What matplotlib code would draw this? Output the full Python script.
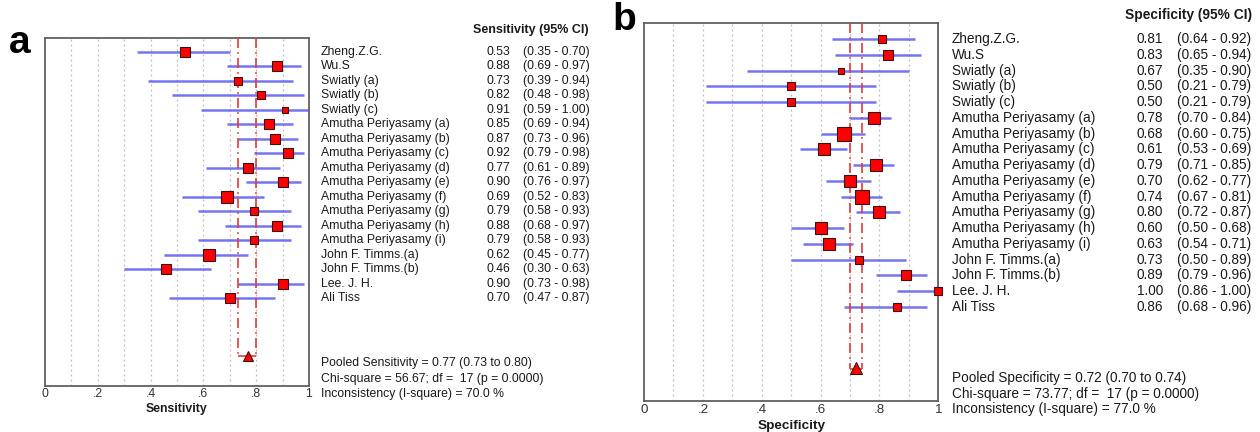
import numpy as np
import matplotlib
matplotlib.use('Agg')
import matplotlib.pyplot as plt
from matplotlib import transforms

plt.rcParams['font.family'] = ['Liberation Sans', 'DejaVu Sans']

studies = ["Zheng.Z.G.", "Wu.S", "Swiatly (a)", "Swiatly (b)", "Swiatly (c)",
           "Amutha Periyasamy (a)", "Amutha Periyasamy (b)", "Amutha Periyasamy (c)",
           "Amutha Periyasamy (d)", "Amutha Periyasamy (e)", "Amutha Periyasamy (f)",
           "Amutha Periyasamy (g)", "Amutha Periyasamy (h)", "Amutha Periyasamy (i)",
           "John F. Timms.(a)", "John F. Timms.(b)", "Lee. J. H.", "Ali Tiss"]

sens = [0.53, 0.88, 0.73, 0.82, 0.91, 0.85, 0.87, 0.92, 0.77, 0.90, 0.69, 0.79, 0.88, 0.79, 0.62, 0.46, 0.90, 0.70]
sens_lo = [0.35, 0.69, 0.39, 0.48, 0.59, 0.69, 0.73, 0.79, 0.61, 0.76, 0.52, 0.58, 0.68, 0.58, 0.45, 0.30, 0.73, 0.47]
sens_hi = [0.70, 0.97, 0.94, 0.98, 1.00, 0.94, 0.96, 0.98, 0.89, 0.97, 0.83, 0.93, 0.97, 0.93, 0.77, 0.63, 0.98, 0.87]
sens_weight = [8.5, 8, 6.7, 7.3, 6, 8.7, 8.7, 9, 9.3, 9, 10, 7.3, 8, 7.3, 10, 9.3, 8.3, 8]

spec = [0.81, 0.83, 0.67, 0.50, 0.50, 0.78, 0.68, 0.61, 0.79, 0.70, 0.74, 0.80, 0.60, 0.63, 0.73, 0.89, 1.00, 0.86]
spec_lo = [0.64, 0.65, 0.35, 0.21, 0.21, 0.70, 0.60, 0.53, 0.71, 0.62, 0.67, 0.72, 0.50, 0.54, 0.50, 0.79, 0.86, 0.68]
spec_hi = [0.92, 0.94, 0.90, 0.79, 0.79, 0.84, 0.75, 0.69, 0.85, 0.77, 0.81, 0.87, 0.68, 0.71, 0.89, 0.96, 1.00, 0.96]
spec_weight = [7.7, 8, 6, 6.7, 6.7, 10.7, 12, 11, 11, 10, 11.7, 10.7, 9.7, 10.7, 7.3, 9.3, 6.7, 7.3]

pooled_sens = (0.77, 0.73, 0.80)
pooled_spec = (0.72, 0.70, 0.74)
stats_sens = (56.67, 17, 0.0000, 70.0)
stats_spec = (73.77, 17, 0.0000, 77.0)

xticks = [0, 0.2, 0.4, 0.6, 0.8, 1.0]
xticklabels = ['0', '.2', '.4', '.6', '.8', '1']

W, H = 1260, 432
fig = plt.figure(figsize=(W / 100, H / 100), dpi=100)


def fx(px):
    return px / W


def fy(py):
    return 1 - py / H


TXT = '#1a1a1a'
BLUE = '#5c5cf2'
RED = '#ff0000'
DRED = '#e03a3a'


def forest(rect, est, lo, hi, weight, pooled, ylim, bracket_row, tri_row, tri_ms, scale,
           fs_tick, label, fs_label, tickpad, labelpad):
    ax = fig.add_axes(rect)
    n = len(est)
    rows = np.arange(n)
    ax.set_xlim(0, 1)
    ax.set_ylim(ylim)
    for g in np.arange(0.1, 0.95, 0.1):
        ax.axvline(g, color='#bdbdbd', lw=0.9, ls=(0, (1.5, 2.5)), zorder=0)
    ax.hlines(rows, lo, hi, color=BLUE, lw=1.8, zorder=2, alpha=0.85)
    for i in range(n):
        ax.plot(est[i], rows[i], 's', ms=weight[i] * 0.72 * scale, mfc=RED,
                mec='#3b1010', mew=0.8, zorder=4, clip_on=False)
    pe, plo, phi = pooled
    ax.vlines([plo, phi], ylim[1], bracket_row, color=DRED, lw=1.2,
              linestyles=[(0, (6, 2.5, 1, 2.5))], zorder=3)
    ax.hlines(bracket_row, plo, phi, color=DRED, lw=1.2, zorder=3)
    ax.plot(pe, tri_row, '^', ms=tri_ms, mfc=RED, mec='#3b1010', mew=0.8, zorder=5)
    ax.set_xticks(xticks)
    ax.set_xticklabels(xticklabels, fontsize=fs_tick, color='#333333')
    ax.tick_params(axis='x', length=0, pad=tickpad)
    ax.set_yticks([])
    ax.set_xlabel(label, fontsize=fs_label, fontweight='bold', color=TXT, labelpad=labelpad)
    for s in ax.spines.values():
        s.set_color('#606060')
        s.set_linewidth(1.3)
    return ax


# Panel a
ax_a = forest([fx(45), fy(385.7), fx(264), (385.7 - 38) / H], sens, sens_lo, sens_hi,
              sens_weight, pooled_sens, (23.03, -0.945), 21.0, 20.95, 7.6, 1.15,
              8.8, 'Sensitivity', 8.8, 1.5, 2.5)
# Panel b
ax_b = forest([fx(644), fy(401), fx(294.3), (401 - 23.3) / H], spec, spec_lo, spec_hi,
              spec_weight, pooled_spec, (22.98, -1.0), 20.95, 20.9, 9.0, 1.15,
              9.6, 'Specificity', 9.7, 2.0, 3.0)


def side_text(ax, est, lo, hi, x_name, x_val, x_ci, fs):
    tr = transforms.blended_transform_factory(fig.transFigure, ax.transData)
    for i, name in enumerate(studies):
        fig.text(fx(x_name), i, name, transform=tr, fontsize=fs, color=TXT, va='center', ha='left')
        fig.text(fx(x_val), i, f'{est[i]:.2f}', transform=tr, fontsize=fs, color=TXT, va='center', ha='left')
        fig.text(fx(x_ci), i, f'({lo[i]:.2f} - {hi[i]:.2f})', transform=tr, fontsize=fs,
                 color=TXT, va='center', ha='left')


side_text(ax_a, sens, sens_lo, sens_hi, 321, 486.7, 522.7, 8.8)
side_text(ax_b, spec, spec_lo, spec_hi, 952, 1136.7, 1177.3, 9.8)

fig.text(fx(589), fy(30), 'Sensitivity (95% CI)', fontsize=9.0, fontweight='bold',
         color=TXT, ha='right', va='center')
fig.text(fx(1252), fy(15), 'Specificity (95% CI)', fontsize=9.9, fontweight='bold',
         color=TXT, ha='right', va='center')

pa = [f'Pooled Sensitivity = {pooled_sens[0]:.2f} ({pooled_sens[1]:.2f} to {pooled_sens[2]:.2f})',
      f'Chi-square = {stats_sens[0]:.2f}; df =  {stats_sens[1]} (p = {stats_sens[2]:.4f})',
      f'Inconsistency (I-square) = {stats_sens[3]:.1f} %']
for t, yy in zip(pa, [363, 379, 394]):
    fig.text(fx(321), fy(yy), t, fontsize=8.8, color=TXT, ha='left', va='center')

pb = [f'Pooled Specificity = {pooled_spec[0]:.2f} ({pooled_spec[1]:.2f} to {pooled_spec[2]:.2f})',
      f'Chi-square = {stats_spec[0]:.2f}; df =  {stats_spec[1]} (p = {stats_spec[2]:.4f})',
      f'Inconsistency (I-square) = {stats_spec[3]:.1f} %']
for t, yy in zip(pb, [378, 394, 409]):
    fig.text(fx(952), fy(yy), t, fontsize=9.8, color=TXT, ha='left', va='center')

fig.text(fx(9), fy(43), 'a', fontsize=28, fontweight='bold', color='black', ha='left', va='center')
fig.text(fx(612), fy(20), 'b', fontsize=28, fontweight='bold', color='black', ha='left', va='center')

fig.savefig('out.png', dpi=100, facecolor='white')
